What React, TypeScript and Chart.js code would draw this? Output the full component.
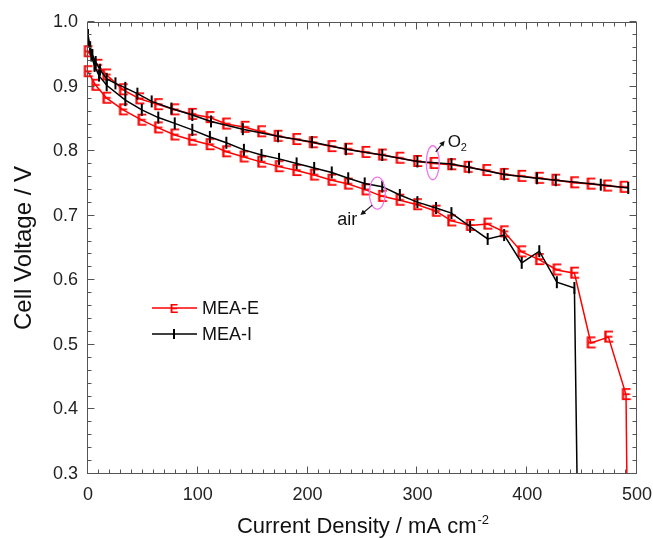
import React, { useEffect, useRef } from "react";
import { Chart, registerables } from "chart.js";

Chart.register(...registerables);

const FONT = "Arial, 'Liberation Sans', Helvetica, sans-serif";

const xTickValues = [0, 100, 200, 300, 400, 500];
const yTickValues = [0.3, 0.4, 0.5, 0.6, 0.7, 0.8, 0.9, 1.0];

const xTitle = "Current Density / mA cm";
const xTitleSup = "-2";
const yTitle = "Cell Voltage / V";
const legendLabels = ["MEA-E", "MEA-I"];
const o2Label = "O";
const o2Sub = "2";
const airLabel = "air";

// O2 feed, MEA-E
const o2EX = [0, 9, 17, 32, 47, 64, 79, 95, 111, 126, 143, 158, 173, 190, 205, 222, 237, 253, 268, 284, 300, 315, 331, 346, 363, 379, 395, 411, 426, 443, 458, 473, 488];
const o2EY = [0.954, 0.933, 0.918, 0.895, 0.881, 0.872, 0.864, 0.857, 0.852, 0.842, 0.837, 0.83, 0.823, 0.818, 0.813, 0.807, 0.803, 0.798, 0.794, 0.789, 0.784, 0.781, 0.779, 0.775, 0.77, 0.764, 0.761, 0.758, 0.755, 0.751, 0.749, 0.746, 0.744];

// O2 feed, MEA-I
const o2IX = [0, 2, 4, 7, 11, 17, 25, 34, 45, 58, 76, 95, 112, 141, 173, 204, 235, 268, 300, 331, 347, 379, 409, 426, 467, 492];
const o2IY = [0.98, 0.961, 0.949, 0.938, 0.926, 0.912, 0.905, 0.898, 0.889, 0.877, 0.866, 0.856, 0.846, 0.834, 0.823, 0.814, 0.803, 0.794, 0.784, 0.78, 0.775, 0.764, 0.758, 0.755, 0.748, 0.743];

// air feed, MEA-E
const airEX = [0, 7, 17, 32, 49, 64, 79, 95, 111, 126, 142, 158, 174, 190, 206, 222, 237, 253, 268, 284, 300, 317, 331, 348, 364, 379, 395, 411, 427, 443, 458, 474, 490, 492];
const airEY = [0.923, 0.902, 0.882, 0.864, 0.848, 0.836, 0.825, 0.817, 0.81, 0.799, 0.791, 0.783, 0.776, 0.77, 0.763, 0.755, 0.749, 0.74, 0.73, 0.724, 0.717, 0.707, 0.692, 0.685, 0.687, 0.675, 0.644, 0.632, 0.616, 0.611, 0.503, 0.512, 0.423, 0.1];

// air feed, MEA-I
const airIX = [0, 3, 6, 10, 17, 34, 49, 64, 79, 95, 111, 126, 142, 158, 174, 190, 206, 222, 237, 252, 268, 284, 300, 317, 331, 348, 364, 379, 395, 411, 427, 443, 447];
const airIY = [0.972, 0.948, 0.932, 0.917, 0.902, 0.879, 0.864, 0.852, 0.843, 0.833, 0.822, 0.813, 0.802, 0.794, 0.788, 0.781, 0.774, 0.767, 0.758, 0.75, 0.745, 0.732, 0.721, 0.712, 0.704, 0.683, 0.664, 0.67, 0.627, 0.645, 0.597, 0.588, 0.1];

// annotation anchors (data coords)
const o2Ellipse = { x: 314, y: 0.782 };
const airEllipse = { x: 263.5, y: 0.735 };

const RED = "#ff0000";
const BLACK = "#000000";
const AXIS = "#555555";
const MAGENTA = "#ee77ee";

const pts = (xs: number[], ys: number[]) => xs.map((x, i) => ({ x, y: ys[i] }));

function makeEMarker(scale: number) {
  const c = document.createElement("canvas");
  const w = Math.round(13 * scale);
  const h = Math.round(15 * scale);
  c.width = w;
  c.height = h;
  const g = c.getContext("2d")!;
  const fs = 16 * scale;
  g.fillStyle = RED;
  g.font = `bold ${fs}px ${FONT}`;
  g.textAlign = "center";
  g.textBaseline = "alphabetic";
  g.fillText("E", w / 2, h / 2 + 0.36 * fs);
  return c;
}

function arrow(ctx: CanvasRenderingContext2D, x1: number, y1: number, x2: number, y2: number, color: string) {
  ctx.strokeStyle = color;
  ctx.fillStyle = color;
  ctx.lineWidth = 1.2;
  const ang = Math.atan2(y2 - y1, x2 - x1);
  const hl = 6;
  ctx.beginPath();
  ctx.moveTo(x1, y1);
  ctx.lineTo(x2 - Math.cos(ang) * hl * 0.7, y2 - Math.sin(ang) * hl * 0.7);
  ctx.stroke();
  ctx.beginPath();
  ctx.moveTo(x2, y2);
  ctx.lineTo(x2 - hl * Math.cos(ang - 0.45), y2 - hl * Math.sin(ang - 0.45));
  ctx.lineTo(x2 - hl * Math.cos(ang + 0.45), y2 - hl * Math.sin(ang + 0.45));
  ctx.closePath();
  ctx.fill();
}

export default function App() {
  const ref = useRef<HTMLCanvasElement | null>(null);

  useEffect(() => {
    const canvas = ref.current!;
    const eMarker = makeEMarker(1);
    const eLegend = makeEMarker(0.8);

    const decor = {
      id: "decor",
      afterDatasetsDraw(chart: any) {
        const { ctx, chartArea: a, scales } = chart;
        const xs = scales.x;
        const ys = scales.y;
        ctx.save();
        // frame
        ctx.strokeStyle = AXIS;
        ctx.lineWidth = 1;
        const L = Math.round(a.left) - 0.5;
        const R = Math.round(a.right) - 0.5;
        const T = Math.round(a.top) + 0.5;
        const B = Math.round(a.bottom) - 0.5;
        ctx.strokeRect(L, T, R - L, B - T);
        // ticks
        ctx.beginPath();
        for (let i = 0; i <= 50; i++) {
          const v = i * 10;
          const px = Math.round(xs.getPixelForValue(v)) - 0.5;
          const len = i % 10 === 0 ? 7 : 4;
          ctx.moveTo(px, B);
          ctx.lineTo(px, B - len);
          ctx.moveTo(px, T);
          ctx.lineTo(px, T + len);
        }
        for (let i = 0; i <= 35; i++) {
          const v = 0.3 + i * 0.02;
          const py = Math.round(ys.getPixelForValue(v)) - 0.5;
          const len = i % 5 === 0 ? 7 : 4;
          ctx.moveTo(L, py);
          ctx.lineTo(L + len, py);
          ctx.moveTo(R, py);
          ctx.lineTo(R - len, py);
        }
        ctx.stroke();

        // legend
        const lx = a.left + 64;
        const ly1 = a.top + 286;
        const ly2 = a.top + 312;
        ctx.lineWidth = 1.5;
        ctx.strokeStyle = RED;
        ctx.beginPath();
        ctx.moveTo(lx, ly1);
        ctx.lineTo(lx + 45, ly1);
        ctx.stroke();
        ctx.drawImage(eLegend, lx + 22 - eLegend.width / 2, ly1 - eLegend.height / 2);
        ctx.strokeStyle = BLACK;
        ctx.beginPath();
        ctx.moveTo(lx, ly2);
        ctx.lineTo(lx + 45, ly2);
        ctx.stroke();
        ctx.lineWidth = 2;
        ctx.beginPath();
        ctx.moveTo(lx + 22, ly2 - 5);
        ctx.lineTo(lx + 22, ly2 + 5);
        ctx.stroke();
        ctx.fillStyle = "#111";
        ctx.font = `18px ${FONT}`;
        ctx.textAlign = "left";
        ctx.textBaseline = "middle";
        ctx.fillText(legendLabels[0], lx + 50, ly1 + 1);
        ctx.fillText(legendLabels[1], lx + 50, ly2 + 1);

        // O2 annotation
        const ox = xs.getPixelForValue(o2Ellipse.x);
        const oy = ys.getPixelForValue(o2Ellipse.y);
        ctx.strokeStyle = MAGENTA;
        ctx.lineWidth = 1.3;
        ctx.beginPath();
        ctx.ellipse(ox, oy, 6.5, 17, 0, 0, Math.PI * 2);
        ctx.stroke();
        arrow(ctx, ox + 3, oy - 11, ox + 12, oy - 22, "#111");
        ctx.fillStyle = "#111";
        ctx.textBaseline = "alphabetic";
        ctx.font = `17px ${FONT}`;
        ctx.fillText(o2Label, ox + 15, oy - 16);
        ctx.font = `11px ${FONT}`;
        ctx.fillText(o2Sub, ox + 28, oy - 12);

        // air annotation
        const ax = xs.getPixelForValue(airEllipse.x);
        const ay = ys.getPixelForValue(airEllipse.y);
        ctx.strokeStyle = MAGENTA;
        ctx.lineWidth = 1.3;
        ctx.beginPath();
        ctx.ellipse(ax, ay, 8, 16, 0, 0, Math.PI * 2);
        ctx.stroke();
        arrow(ctx, ax - 5, ay + 12, ax - 17, ay + 22, "#111");
        ctx.fillStyle = "#111";
        ctx.font = `18px ${FONT}`;
        ctx.textAlign = "right";
        ctx.fillText(airLabel, ax - 20, ay + 32);

        // axis titles
        ctx.fillStyle = "#111";
        ctx.font = `22px ${FONT}`;
        ctx.textAlign = "left";
        ctx.textBaseline = "alphabetic";
        const mainW = ctx.measureText(xTitle).width;
        ctx.font = `13px ${FONT}`;
        const supW = ctx.measureText(xTitleSup).width;
        const cx = (a.left + a.right) / 2;
        const startX = cx - (mainW + supW) / 2;
        ctx.font = `22px ${FONT}`;
        ctx.fillText(xTitle, startX, 533);
        ctx.font = `13px ${FONT}`;
        ctx.fillText(xTitleSup, startX + mainW + 1, 524);

        ctx.save();
        ctx.translate(31, (a.top + a.bottom) / 2);
        ctx.rotate(-Math.PI / 2);
        ctx.font = `24px ${FONT}`;
        ctx.textAlign = "center";
        ctx.textBaseline = "alphabetic";
        ctx.fillText(yTitle, 0, 0);
        ctx.restore();

        ctx.restore();
      },
    };

    const clip = { left: 8, top: 8, right: 8, bottom: 0 };
    const chart = new Chart(canvas, {
      type: "scatter",
      data: {
        datasets: [
          {
            label: "MEA-I O2",
            data: pts(o2IX, o2IY),
            showLine: true,
            borderColor: BLACK,
            borderWidth: 1.5,
            pointStyle: "line",
            pointRotation: 90,
            pointRadius: 6,
            pointBorderWidth: 2,
            pointBorderColor: BLACK,
            order: 0,
            clip,
          },
          {
            label: "MEA-I air",
            data: pts(airIX, airIY),
            showLine: true,
            borderColor: BLACK,
            borderWidth: 1.5,
            pointStyle: "line",
            pointRotation: 90,
            pointRadius: 6,
            pointBorderWidth: 2,
            pointBorderColor: BLACK,
            order: 0,
            clip,
          },
          {
            label: "MEA-E O2",
            data: pts(o2EX, o2EY),
            showLine: true,
            borderColor: RED,
            borderWidth: 1.5,
            pointStyle: eMarker,
            pointRadius: 5,
            order: 1,
            clip,
          },
          {
            label: "MEA-E air",
            data: pts(airEX, airEY),
            showLine: true,
            borderColor: RED,
            borderWidth: 1.5,
            pointStyle: eMarker,
            pointRadius: 5,
            order: 1,
            clip,
          },
        ] as any,
      },
      options: {
        animation: false,
        responsive: false,
        devicePixelRatio: 1,
        events: [],
        layout: { padding: { left: 0, top: 22, right: 16, bottom: 0 } },
        plugins: {
          legend: { display: false },
          tooltip: { enabled: false },
        },
        scales: {
          x: {
            type: "linear",
            min: 0,
            max: 500,
            grid: { display: false, drawTicks: false },
            border: { display: false },
            ticks: {
              font: { family: FONT, size: 18 },
              color: "#222",
              padding: 10,
              maxRotation: 0,
              callback: (v: any) => String(v),
            },
            afterBuildTicks: (ax: any) => {
              ax.ticks = xTickValues.map((v) => ({ value: v }));
            },
            afterFit: (ax: any) => {
              ax.height = 64;
              ax.paddingLeft = 0;
              ax.paddingRight = 0;
            },
          },
          y: {
            type: "linear",
            min: 0.3,
            max: 1.0,
            grid: { display: false, drawTicks: false },
            border: { display: false },
            ticks: {
              font: { family: FONT, size: 18 },
              color: "#222",
              padding: 10,
              callback: (v: any) => Number(v).toFixed(1),
            },
            afterBuildTicks: (ax: any) => {
              ax.ticks = yTickValues.map((v) => ({ value: v }));
            },
            afterFit: (ax: any) => {
              ax.width = 88;
              ax.paddingTop = 0;
              ax.paddingBottom = 0;
            },
          },
        },
      } as any,
      plugins: [decor],
    });
    return () => chart.destroy();
  }, []);

  return (
    <div style={{ position: "fixed", left: 0, top: 0, width: 653, height: 538, background: "#fff" }}>
      <canvas ref={ref} width={653} height={538} style={{ display: "block", width: 653, height: 538 }} />
    </div>
  );
}
